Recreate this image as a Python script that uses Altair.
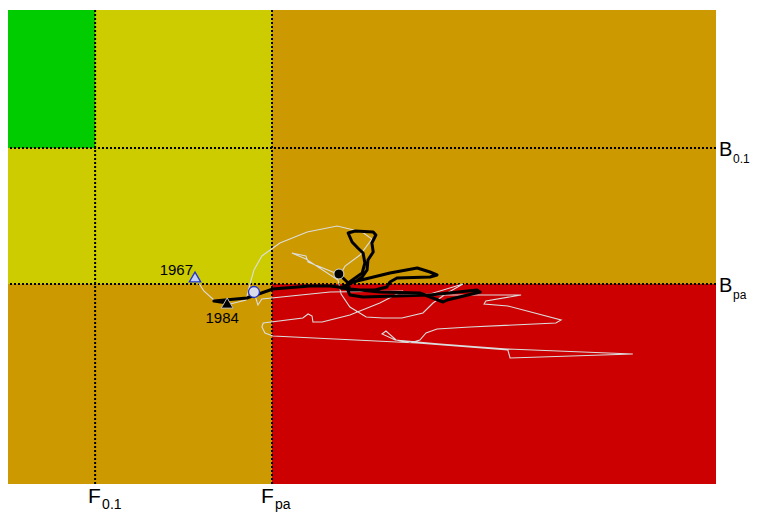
import altair as alt
import pandas as pd

# Reference points (F = fishing mortality, B = spawning stock biomass, kt)
F_MAX = 1.609
B_MAX = 474
F01 = 0.198
FPA = 0.6
B01 = 336
BPA = 200

# Long series (thin light line), starting 1967
white_f = [0.425, 0.445, 0.468, 0.505, 0.541, 0.550, 0.559, 0.577, 0.618, 0.680,
           0.748, 0.805, 0.827, 0.800, 0.766, 0.755, 0.682, 0.677, 0.645, 0.677,
           0.750, 0.757, 0.777, 0.814, 0.852, 0.895, 0.943, 0.966, 0.998, 1.034,
           0.959, 0.845, 0.943, 1.166, 1.086, 1.082, 1.136, 1.257, 1.245, 1.050,
           0.975, 0.950, 0.936, 0.914, 0.882, 0.859, 0.850, 0.880, 0.982, 1.134,
           1.420, 1.141, 1.136, 0.930, 0.602, 0.584, 0.577, 0.580, 0.670, 0.682,
           0.691, 0.693, 0.714, 0.777, 0.845, 0.898, 0.732, 0.577, 0.568, 0.559]
white_b = [207, 193, 184, 180, 184, 200, 214, 228, 241, 252,
           258, 252, 245, 229, 218, 209, 222, 228, 231, 225,
           204, 190, 177, 167, 166, 166, 171, 181, 191, 200,
           190, 188, 189, 189, 183, 180, 178, 164, 161, 157,
           155, 151, 144, 141, 144, 153, 150, 144, 140, 135,
           130, 126, 134, 141, 148, 151, 157, 161, 166, 170,
           168, 162, 162, 169, 181, 193, 192, 185, 179, 192]

# Short series (thick black line), starting 1984
black_f = [0.498, 0.468, 0.543, 0.602, 0.686, 0.732, 0.770, 0.777, 0.807, 0.959,
           1.066, 1.073, 1.045, 0.998, 0.989, 0.936, 0.845, 0.755, 0.784, 0.868,
           0.930, 0.959, 0.975, 0.959, 0.884, 0.868, 0.861, 0.834, 0.777, 0.773,
           0.805, 0.811, 0.807, 0.795, 0.782, 0.773, 0.789, 0.830, 0.836, 0.827,
           0.830, 0.818, 0.816, 0.805, 0.789, 0.773, 0.752]
black_b = [181, 183, 186, 195, 198, 198, 196, 189, 187, 189,
           194, 192, 189, 184, 182, 191, 192, 196, 202, 211,
           216, 212, 209, 207, 206, 202, 197, 194, 194, 201,
           211, 221, 231, 236, 242, 251, 253, 252, 249, 241,
           232, 224, 214, 207, 202, 201, 210]

zone_colors = ["#cc9900", "#cccc00", "#00cc00", "#cc0000"]

W, H = 708, 474
xs = alt.Scale(domain=[0, F_MAX], nice=False, zero=False)
ys = alt.Scale(domain=[0, B_MAX], nice=False, zero=False)

zones = pd.DataFrame({
    "f1": [0, 0, 0, FPA], "f2": [F_MAX, FPA, F01, F_MAX],
    "b1": [0, BPA, B01, 0], "b2": [B_MAX, B_MAX, B_MAX, BPA],
    "color": zone_colors,
})
rects = alt.Chart(zones).mark_rect().encode(
    x=alt.X("f1:Q", scale=xs, axis=None), x2="f2:Q",
    y=alt.Y("b1:Q", scale=ys, axis=None), y2="b2:Q",
    color=alt.Color("color:N", scale=None),
)

vl = alt.Chart(pd.DataFrame({"f": [F01, FPA]})).mark_rule(
    color="black", strokeWidth=2, strokeDash=[2, 2]
).encode(x=alt.X("f:Q", scale=xs))
hl = alt.Chart(pd.DataFrame({"b": [B01, BPA]})).mark_rule(
    color="black", strokeWidth=2, strokeDash=[2, 2]
).encode(y=alt.Y("b:Q", scale=ys))

wdf = pd.DataFrame({"i": range(len(white_f)), "f": white_f, "b": white_b})
bdf = pd.DataFrame({"i": range(len(black_f)), "f": black_f, "b": black_b})

wline = alt.Chart(wdf).mark_line(color="#dddddd", strokeWidth=1.1).encode(
    x=alt.X("f:Q", scale=xs), y=alt.Y("b:Q", scale=ys), order="i:Q")
bline = alt.Chart(bdf).mark_line(color="black", strokeWidth=3, strokeJoin="round",
                                 strokeCap="round").encode(
    x=alt.X("f:Q", scale=xs), y=alt.Y("b:Q", scale=ys), order="i:Q")


def pt(f, b):
    return pd.DataFrame({"f": [f], "b": [b]})


w_start = alt.Chart(pt(white_f[0], white_b[0])).mark_point(
    shape="triangle-up", filled=True, fill="#c4d0f4", stroke="#2233cc",
    strokeWidth=1.3, size=130, opacity=1).encode(
    x=alt.X("f:Q", scale=xs), y=alt.Y("b:Q", scale=ys))
w_end = alt.Chart(pt(white_f[-1], white_b[-1])).mark_point(
    shape="circle", filled=True, fill="#d9dbe8", stroke="#2233cc",
    strokeWidth=1.3, size=120, opacity=1).encode(
    x=alt.X("f:Q", scale=xs), y=alt.Y("b:Q", scale=ys))
b_start = alt.Chart(pt(black_f[0], black_b[0])).mark_point(
    shape="triangle-up", filled=True, fill="black", stroke="#bbbbbb",
    strokeWidth=1, size=140, opacity=1).encode(
    x=alt.X("f:Q", scale=xs), y=alt.Y("b:Q", scale=ys))
b_end = alt.Chart(pt(black_f[-1], black_b[-1])).mark_point(
    shape="circle", filled=True, fill="black", stroke="#dddddd",
    strokeWidth=1, size=100, opacity=1).encode(
    x=alt.X("f:Q", scale=xs), y=alt.Y("b:Q", scale=ys))

FONT = "Liberation Sans"
lbl1967 = alt.Chart(pt(white_f[0], white_b[0])).mark_text(
    text="1967", align="right", baseline="alphabetic", dx=-2, dy=-2,
    fontSize=15, font=FONT, color="black").encode(
    x=alt.X("f:Q", scale=xs), y=alt.Y("b:Q", scale=ys))
lbl1984 = alt.Chart(pt(black_f[0], black_b[0])).mark_text(
    text="1984", align="center", baseline="alphabetic", dx=-5, dy=20,
    fontSize=15, font=FONT, color="black").encode(
    x=alt.X("f:Q", scale=xs), y=alt.Y("b:Q", scale=ys))


def flabel(f, sub, dxmain, dxsub):
    main = alt.Chart(pt(f, 0)).mark_text(
        text="F", align="left", baseline="alphabetic", dx=dxmain, dy=19,
        fontSize=21, font=FONT, color="black").encode(
        x=alt.X("f:Q", scale=xs), y=alt.Y("b:Q", scale=ys))
    s = alt.Chart(pt(f, 0)).mark_text(
        text=sub, align="left", baseline="alphabetic", dx=dxsub, dy=25,
        fontSize=14, font=FONT, color="black").encode(
        x=alt.X("f:Q", scale=xs), y=alt.Y("b:Q", scale=ys))
    return main + s


def blabel(b, sub):
    main = alt.Chart(pt(F_MAX, b)).mark_text(
        text="B", align="left", baseline="middle", dx=3, dy=2,
        fontSize=20, font=FONT, color="black").encode(
        x=alt.X("f:Q", scale=xs), y=alt.Y("b:Q", scale=ys))
    s = alt.Chart(pt(F_MAX, b)).mark_text(
        text=sub, align="left", baseline="alphabetic", dx=17, dy=15,
        fontSize=12, font=FONT, color="black").encode(
        x=alt.X("f:Q", scale=xs), y=alt.Y("b:Q", scale=ys))
    return main + s


chart = alt.layer(
    rects, vl, hl, wline, bline, w_start, w_end, b_start, b_end,
    lbl1967, lbl1984,
    flabel(F01, "0.1", -7, 7), flabel(FPA, "pa", -11, 3),
    blabel(B01, "0.1"), blabel(BPA, "pa"),
).properties(
    width=W, height=H,
    autosize=alt.AutoSizeParams(type="none"),
    padding={"left": 0, "top": 2, "right": 34, "bottom": 30},
    background="white",
).configure_view(stroke=None)

chart.save("out.html", embed_options={"renderer": "svg", "actions": False})
